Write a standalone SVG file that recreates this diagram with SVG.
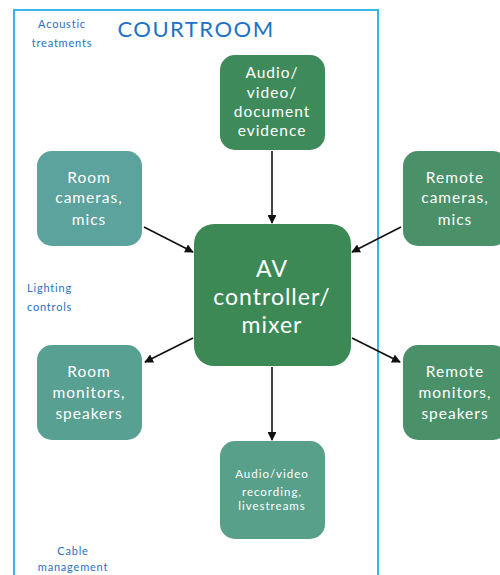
<svg xmlns="http://www.w3.org/2000/svg" width="500" height="575" viewBox="0 0 500 575">
<style>
.node text{fill:#fff;font-family:"Lato","Liberation Sans",sans-serif;text-anchor:middle;letter-spacing:1px}
.lbl{fill:#2b6fc2;font-family:"Lato","Liberation Sans",sans-serif;font-size:11px;letter-spacing:0.8px}
.conn line{stroke:#111;stroke-width:1.6;marker-end:url(#ah)}
</style>
<defs>
<marker id="ah" viewBox="0 0 10 10" refX="9" refY="5" markerWidth="5.5" markerHeight="5.5" orient="auto" markerUnits="strokeWidth">
<path d="M0,0 L10,5 L0,10 z" fill="#111"/>
</marker>
</defs>
<rect width="500" height="575" fill="#fff"/>
<g id="courtroom">
<rect x="14" y="10" width="364" height="580" fill="none" stroke="#3ab4ea" stroke-width="2"/>
<text x="196" y="37" fill="#1e72c8" font-family="Lato,'Liberation Sans',sans-serif" font-size="22" text-anchor="middle" letter-spacing="1.5">COURTROOM</text>
<text class="lbl" x="62" y="28" text-anchor="middle">Acoustic</text>
<text class="lbl" x="62" y="47" text-anchor="middle">treatments</text>
<text class="lbl" x="27" y="292">Lighting</text>
<text class="lbl" x="27" y="311">controls</text>
<text class="lbl" x="73" y="555" text-anchor="middle">Cable</text>
<text class="lbl" x="73" y="571" text-anchor="middle">management</text>
</g>
<g class="conn" id="connectors">
<line x1="272" y1="151" x2="272" y2="223"/>
<line x1="144" y1="227" x2="193" y2="252"/>
<line x1="401" y1="227" x2="352" y2="252"/>
<line x1="193" y1="338" x2="145" y2="362"/>
<line x1="352" y1="338" x2="400" y2="362"/>
<line x1="272" y1="367" x2="272" y2="440"/>
</g>
<g class="node" id="evidence">
<rect x="220" y="55" width="105" height="95" rx="15" fill="#3e8a5a"/>
<text x="272" y="78" font-size="15.5">Audio/</text>
<text x="272" y="98" font-size="15.5">video/</text>
<text x="272" y="117" font-size="15.5">document</text>
<text x="272" y="136" font-size="15.5">evidence</text>
</g>
<g class="node" id="room-cameras">
<rect x="37" y="151" width="105" height="95" rx="15" fill="#5ba39c"/>
<text x="89" y="183" font-size="15.5">Room</text>
<text x="89" y="203" font-size="15.5">cameras,</text>
<text x="89" y="225" font-size="15.5">mics</text>
</g>
<g class="node" id="remote-cameras">
<rect x="403" y="151" width="105" height="95" rx="15" fill="#4a9068"/>
<text x="455" y="183" font-size="15.5">Remote</text>
<text x="455" y="203" font-size="15.5">cameras,</text>
<text x="455" y="225" font-size="15.5">mics</text>
</g>
<g class="node" id="av-controller">
<rect x="194" y="224" width="157" height="142" rx="20" fill="#3d8955"/>
<text x="272" y="277" font-size="23">AV</text>
<text x="272" y="305" font-size="23">controller/</text>
<text x="272" y="333" font-size="23">mixer</text>
</g>
<g class="node" id="room-monitors">
<rect x="37" y="345" width="105" height="95" rx="15" fill="#58a092"/>
<text x="89" y="377" font-size="15.5">Room</text>
<text x="89" y="398" font-size="15.5">monitors,</text>
<text x="89" y="419" font-size="15.5">speakers</text>
</g>
<g class="node" id="remote-monitors">
<rect x="403" y="345" width="105" height="95" rx="15" fill="#4a9068"/>
<text x="455" y="377" font-size="15.5">Remote</text>
<text x="455" y="398" font-size="15.5">monitors,</text>
<text x="455" y="419" font-size="15.5">speakers</text>
</g>
<g class="node" id="recording">
<rect x="220" y="441" width="105" height="98" rx="15" fill="#58a08a"/>
<text x="272" y="478" font-size="11.5">Audio/video</text>
<text x="272" y="496" font-size="11.5">recording,</text>
<text x="272" y="510" font-size="11.5">livestreams</text>
</g>
</svg>
